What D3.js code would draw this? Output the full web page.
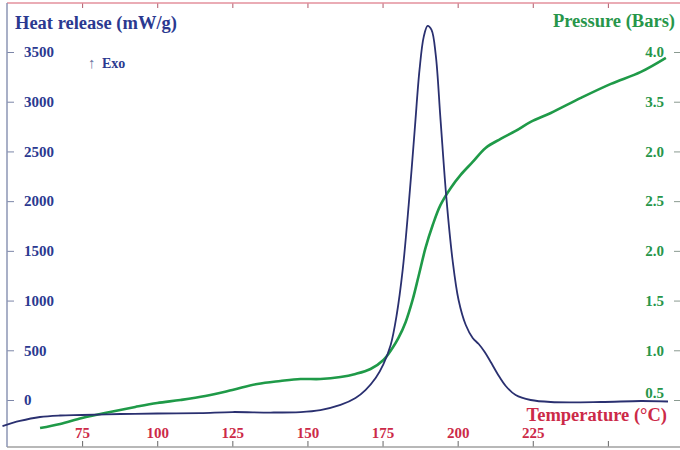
<!DOCTYPE html>
<html>
<head>
<meta charset="utf-8">
<script src="https://cdnjs.cloudflare.com/ajax/libs/d3/7.8.5/d3.min.js"></script>
<style>
  body { margin: 0; background: #ffffff; }
  svg { display: block; font-family: "Liberation Serif", "DejaVu Serif", serif; font-weight: bold; }
</style>
</head>
<body>
<div id="chart"></div>
<script>
/////////////////////////////////////////////////////////
////////////////////// The data /////////////////////////
/////////////////////////////////////////////////////////

// Heat release curve (mW/g) against temperature (°C)
const heatTemp  = [48.5, 54.3, 61, 67.7, 75, 87.7, 100, 114.3, 125, 137.7, 147.7, 154.3, 161, 166, 169.3,
	172.7, 175.3, 177.7, 179.7, 181.7, 183.7, 185.7, 187.3, 188.7, 190, 191.3, 192.7, 194.3, 196.3,
	198.3, 200.3, 202.7, 205, 207, 209, 211, 213.3, 216, 219.3, 224.3, 231, 247.7, 261, 270];
const heatValue = [-262, -211, -171, -156, -151, -141, -136, -131, -121, -126, -121, -101, -50, 20, 100,
	221, 362, 553, 855, 1308, 1962, 2716, 3320, 3652, 3763, 3722, 3471, 2817, 2012,
	1408, 1006, 754, 624, 563, 483, 382, 262, 141, 50, 0, -20, -20, -10, -15];

// Pressure curve (Bars) against temperature (°C)
const pressTemp  = [61, 67.7, 75, 84.3, 92.7, 100, 107.7, 116, 125, 133.3, 141, 147.7, 154.3, 161, 166,
	171, 175.3, 178.3, 180.3, 182.7, 185, 187, 189.3, 191.7, 194.3, 197.7, 201, 205, 209.3,
	214.3, 219.3, 224.3, 231, 241, 251, 261, 269.3];
const pressValue = [0.218, 0.259, 0.319, 0.379, 0.430, 0.470, 0.500, 0.540, 0.601, 0.661, 0.691, 0.711, 0.711, 0.731, 0.762,
	0.812, 0.902, 1.023, 1.124, 1.285, 1.506, 1.747, 2.029, 2.260, 2.462, 2.633, 2.764, 2.894, 3.035,
	3.126, 3.206, 3.297, 3.387, 3.538, 3.679, 3.800, 3.941];

// Tick values and labels
const tempTicks       = [75, 100, 125, 150, 175, 200, 225, 250];
const tempTickLabels  = ["75", "100", "125", "150", "175", "200", "225", ""];
const heatTicks       = [0, 500, 1000, 1500, 2000, 2500, 3000, 3500];
const pressTicks      = [0.5, 1.0, 1.5, 2.0, 2.5, 3.0, 3.5, 4.0];
const pressTickLabels = ["0.5", "1.0", "1.5", "2.0", "2.5", "2.0", "3.5", "4.0"];

/////////////////////////////////////////////////////////
//////////////////// Set up the SVG /////////////////////
/////////////////////////////////////////////////////////
const W = 680, H = 450;
const blue = "#2b3990", green = "#27964a", red = "#cc2a48";

const svg = d3.select("#chart").append("svg")
	.attr("width", W)
	.attr("height", H);

//Scales
const x = d3.scaleLinear().domain([50, 275]).range([7, 683]);
const yHeat = d3.scaleLinear().domain([0, 3500]).range([400, 52]);
const yPress = d3.scaleLinear().domain([0.5, 4.0]).range([400, 52]);

//small helper for the bold serif labels
function styleLabels(sel, color, size) {
	sel.selectAll("text")
		.attr("fill", color)
		.style("font-size", size + "px")
		.style("font-family", "Liberation Serif, serif")
		.style("font-weight", "bold");
}

/////////////////////////////////////////////////////////
////////////////////// The frame ////////////////////////
/////////////////////////////////////////////////////////

//Top line with small ticks pointing down
const topAxis = svg.append("g")
	.attr("transform", "translate(0,3)")
	.call(d3.axisBottom(x).tickValues(tempTicks).tickSize(5).tickFormat(""));
topAxis.select(".domain").remove();
topAxis.selectAll("line").attr("stroke", "#b05a6a");
svg.append("line")
	.attr("x1", 7).attr("x2", W).attr("y1", 3).attr("y2", 3)
	.attr("stroke", "#e3909c").attr("stroke-width", 1.5);

//Bottom axis (temperature)
const bottomAxis = svg.append("g")
	.attr("transform", "translate(0,447)")
	.call(d3.axisTop(x).tickValues(tempTicks).tickSize(6).tickPadding(3)
		.tickFormat((d, i) => tempTickLabels[i]));
bottomAxis.select(".domain").remove();
bottomAxis.selectAll("line").attr("stroke", "#666");
styleLabels(bottomAxis, red, 15);
svg.append("line")
	.attr("x1", 7).attr("x2", W).attr("y1", 447).attr("y2", 447)
	.attr("stroke", "#a0a0a0").attr("stroke-width", 1.5);

//Left axis (heat release)
const leftAxis = svg.append("g")
	.attr("transform", "translate(7,0)")
	.call(d3.axisRight(yHeat).tickValues(heatTicks).tickSize(7).tickPadding(10)
		.tickFormat(d3.format("d")));
leftAxis.select(".domain").remove();
leftAxis.selectAll("line").attr("stroke", "#7c86a8");
styleLabels(leftAxis, blue, 15);
svg.append("line")
	.attr("x1", 7).attr("x2", 7).attr("y1", 3).attr("y2", 447)
	.attr("stroke", "#8c96b4").attr("stroke-width", 1.5);

//Right axis (pressure)
const rightAxis = svg.append("g")
	.attr("transform", "translate(680,0)")
	.call(d3.axisLeft(yPress).tickValues(pressTicks).tickSize(6).tickPadding(10)
		.tickFormat((d, i) => pressTickLabels[i]));
rightAxis.select(".domain").remove();
rightAxis.selectAll("line").attr("stroke", "#8a9a90");
styleLabels(rightAxis, green, 15);
//lift the lowest label off the curve
rightAxis.selectAll("text").filter(d => d === 0.5).attr("y", -7);

/////////////////////////////////////////////////////////
////////////////////// The titles ///////////////////////
/////////////////////////////////////////////////////////
svg.append("text")
	.attr("x", 15).attr("y", 29)
	.attr("fill", blue)
	.style("font-size", "18.5px")
	.text("Heat release (mW/g)");

svg.append("text")
	.attr("x", 675).attr("y", 27)
	.attr("text-anchor", "end")
	.attr("fill", green)
	.style("font-size", "18.5px")
	.text("Pressure (Bars)");

svg.append("text")
	.attr("x", 667).attr("y", 421)
	.attr("text-anchor", "end")
	.attr("fill", red)
	.style("font-size", "18.5px")
	.text("Temperature (°C)");

//Exo marker: thin arrow, bold text
svg.append("text")
	.attr("x", 88).attr("y", 68)
	.attr("fill", "#6a74a0")
	.style("font-weight", "normal")
	.style("font-size", "15px")
	.text("↑");
svg.append("text")
	.attr("x", 102).attr("y", 68)
	.attr("fill", blue)
	.style("font-size", "14px")
	.text("Exo");

/////////////////////////////////////////////////////////
////////////////////// The curves ///////////////////////
/////////////////////////////////////////////////////////
const heatData = heatTemp.map((t, i) => ({t: t, v: heatValue[i]}));
const pressData = pressTemp.map((t, i) => ({t: t, v: pressValue[i]}));

const heatLine = d3.line()
	.curve(d3.curveCatmullRom)
	.x(d => x(d.t))
	.y(d => yHeat(d.v));

const pressLine = d3.line()
	.curve(d3.curveCatmullRom)
	.x(d => x(d.t))
	.y(d => yPress(d.v));

svg.append("path")
	.datum(pressData)
	.attr("d", pressLine)
	.attr("fill", "none")
	.attr("stroke", "#1f9a48")
	.attr("stroke-width", 2.6);

svg.append("path")
	.datum(heatData)
	.attr("d", heatLine)
	.attr("fill", "none")
	.attr("stroke", "#2a3070")
	.attr("stroke-width", 1.8);
</script>
</body>
</html>
